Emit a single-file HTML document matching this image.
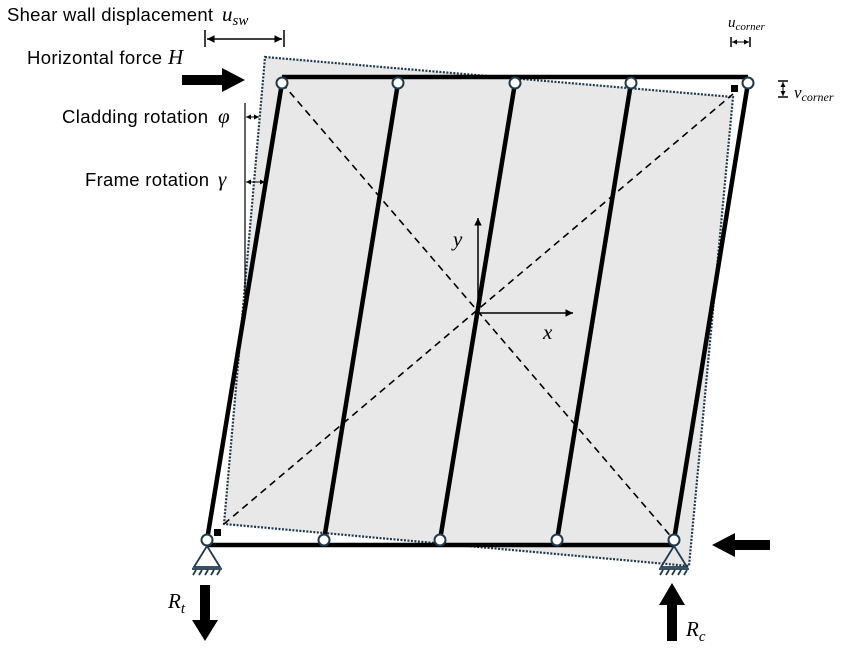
<!DOCTYPE html>
<html><head><style>body{margin:0;background:#fff}</style></head><body>
<svg width="851" height="657" viewBox="0 0 851 657" xmlns="http://www.w3.org/2000/svg">
<defs>
<marker id="a" markerWidth="6" markerHeight="6" refX="5" refY="3" orient="auto"><path d="M0,0.5 L5,3 L0,5.5z" fill="#000"/></marker>
<marker id="s" markerWidth="6" markerHeight="6" refX="5" refY="3" orient="auto-start-reverse"><path d="M0,0.5 L5,3 L0,5.5z" fill="#000"/></marker>
</defs>
<polygon points="265,57 733,97 689,566 224,524" fill="#e8e8e8" stroke="#1f3a4d" stroke-width="2.2" stroke-dasharray="2,1.5"/>
<g stroke="#000" stroke-width="1.6" stroke-dasharray="7,5" fill="none">
<line x1="282" y1="83" x2="674" y2="540"/>
<line x1="224" y1="524" x2="733" y2="94"/>
</g>
<rect x="214" y="529" width="7" height="7"/><rect x="731" y="85" width="7" height="7"/>
<g stroke="#000" stroke-width="4.5">
<line x1="282" y1="77" x2="748" y2="77"/>
<line x1="207" y1="545" x2="674" y2="545"/>
<line x1="282" y1="83" x2="207" y2="540"/>
<line x1="398" y1="83" x2="324" y2="540"/>
<line x1="515" y1="83" x2="440" y2="540"/>
<line x1="631" y1="83" x2="557" y2="540"/>
<line x1="748" y1="83" x2="674" y2="540"/>
</g>
<g fill="#fff" stroke="#1f3a4d" stroke-width="2">
<circle cx="282" cy="83" r="5.5"/><circle cx="398" cy="83" r="5.5"/><circle cx="515" cy="83" r="5.5"/><circle cx="631" cy="83" r="5.5"/><circle cx="748" cy="83" r="5.5"/>
<circle cx="207" cy="540" r="5.5"/><circle cx="324" cy="540" r="5.5"/><circle cx="440" cy="540" r="5.5"/><circle cx="557" cy="540" r="5.5"/><circle cx="674" cy="540" r="5.5"/>
</g>
<g fill="none" stroke="#1f3a4d" stroke-width="1.8">
<polygon points="207,546 194,567 220,567"/><polygon points="674,546 661,567 687,567"/>
<path d="M192,569h30 M196,570l-3,5 M202,570l-3,5 M208,570l-3,5 M214,570l-3,5 M220,570l-3,5"/>
<path d="M659,569h30 M663,570l-3,5 M669,570l-3,5 M675,570l-3,5 M681,570l-3,5 M687,570l-3,5"/>
</g>
<g stroke="#000" stroke-width="1.5" fill="none">
<line x1="478" y1="313" x2="478" y2="218" marker-end="url(#a)"/>
<line x1="478" y1="313" x2="573" y2="313" marker-end="url(#a)"/>
</g>
<polygon points="182,75 222,75 222,68 245,80 222,92 222,85 182,85"/>
<polygon points="770,540 735,540 735,533 712,545 735,557 735,550 770,550"/>
<polygon points="200,585 210,585 210,620 218,620 205,641 192,620 200,620"/>
<polygon points="667,641 677,641 677,605 685,605 672,583 659,605 667,605"/>
<g stroke="#000" stroke-width="1.5" fill="none">
<line x1="205" y1="30" x2="205" y2="47"/><line x1="284" y1="30" x2="284" y2="47"/>
<line x1="207" y1="39" x2="282" y2="39" marker-start="url(#s)" marker-end="url(#s)"/>
<line x1="245" y1="103" x2="245" y2="300" stroke-width="1.2"/>
<line x1="246" y1="117" x2="259" y2="117" marker-start="url(#s)" marker-end="url(#s)" stroke-width="1"/>
<line x1="246" y1="182" x2="265" y2="182" marker-start="url(#s)" marker-end="url(#s)" stroke-width="1"/>
<line x1="731" y1="37" x2="731" y2="47"/><line x1="750" y1="37" x2="750" y2="47"/>
<line x1="732" y1="42" x2="749" y2="42" marker-start="url(#s)" marker-end="url(#s)" stroke-width="1"/>
<line x1="778" y1="81" x2="788" y2="81"/><line x1="778" y1="97" x2="788" y2="97"/>
<line x1="783" y1="82" x2="783" y2="96" marker-start="url(#s)" marker-end="url(#s)" stroke-width="1"/>
</g>
<g font-family="Liberation Sans, sans-serif" font-size="18.5" fill="#000">
<text x="7" y="21" textLength="206">Shear wall displacement</text>
<text x="27" y="64" textLength="135">Horizontal force</text>
<text x="62" y="123" textLength="146">Cladding rotation</text>
<text x="85" y="186" textLength="124">Frame rotation</text>
</g>
<g font-family="Liberation Serif, serif" font-style="italic" fill="#000" font-size="21">
<text x="222" y="21">u<tspan font-size="15" dy="4">sw</tspan></text>
<text x="168" y="64">H</text>
<text x="218" y="123">φ</text>
<text x="218" y="186">γ</text>
<text x="728" y="27" font-size="15">u<tspan font-size="11" dy="3">corner</tspan></text>
<text x="794" y="98" font-size="17">v<tspan font-size="12" dy="3">corner</tspan></text>
<text x="453" y="246">y</text>
<text x="543" y="339">x</text>
<text x="168" y="608">R<tspan font-size="15" dy="5">t</tspan></text>
<text x="686" y="636">R<tspan font-size="15" dy="5">c</tspan></text>
</g>
</svg>
</body></html>
